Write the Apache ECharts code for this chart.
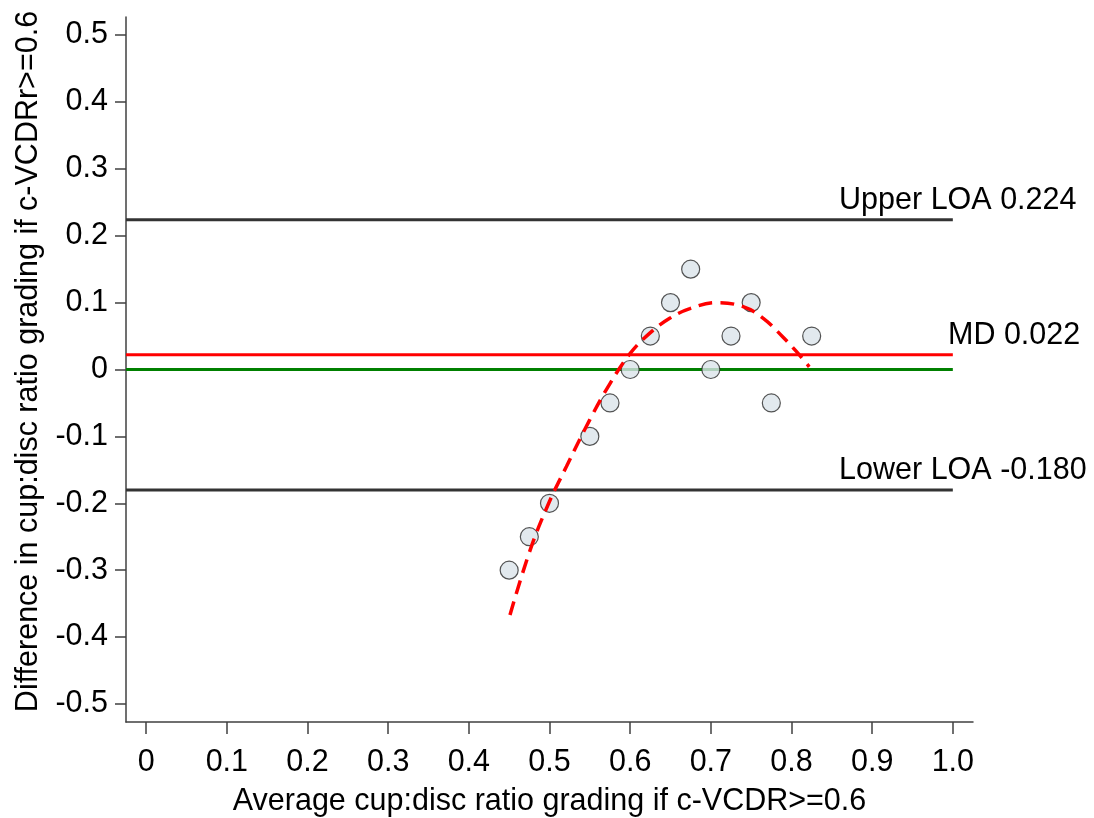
<!DOCTYPE html>
<html>
<head>
<meta charset="utf-8">
<script src="https://cdn.jsdelivr.net/npm/echarts@6/dist/echarts.min.js"></script>
<style>
  html, body { margin: 0; padding: 0; background: #fff; }
  #chart { width: 1094px; height: 818px; }
</style>
</head>
<body>
<div id="chart"></div>
<script>
// observed points (average, difference)
const avgValues = [0.45, 0.475, 0.5, 0.55, 0.575, 0.6, 0.625, 0.65, 0.675, 0.7, 0.725, 0.75, 0.775, 0.825];
const diffValues = [-0.3, -0.25, -0.2, -0.1, -0.05, 0, 0.05, 0.1, 0.15, 0, 0.05, 0.1, -0.05, 0.05];

// dashed fitted curve
const fitX = [0.451, 0.476, 0.499, 0.521, 0.55, 0.575, 0.6, 0.624, 0.649, 0.674, 0.707, 0.74, 0.765, 0.789, 0.806, 0.822];
const fitY = [-0.367, -0.27, -0.2, -0.145, -0.075, -0.021, 0.024, 0.054, 0.0765, 0.091, 0.1, 0.094, 0.0765, 0.049, 0.027, 0.004];

// reference lines
const upperLOA = 0.224;
const meanDiff = 0.022;
const zeroLine = 0;
const lowerLOA = -0.180;

const xTicks = [0, 0.1, 0.2, 0.3, 0.4, 0.5, 0.6, 0.7, 0.8, 0.9, 1.0];
const yTicks = [-0.5, -0.4, -0.3, -0.2, -0.1, 0, 0.1, 0.2, 0.3, 0.4, 0.5];

const xMin = -0.025, xMax = 1.025;
const yMin = -0.527, yMax = 0.527;
const lineEnd = 1.0;

const FONT = "Liberation Sans, Arial, sans-serif";
const FS = 30.5;

const fmt = function (v) {
    if (Math.abs(v) < 1e-9) return "0";
    return v.toFixed(1);
};

const chart = echarts.init(document.getElementById("chart"));

function hLine(value, color) {
    return {
        type: "line",
        data: [[xMin, value], [lineEnd, value]],
        symbol: "none",
        silent: true,
        z: 1,
        lineStyle: { color: color, width: 3 },
    };
}

const option = {
    animation: false,
    grid: { left: 126, right: 121, top: 17, bottom: 96, outerBoundsMode: "none", containLabel: false },
    xAxis: {
        type: "value",
        min: xMin,
        max: xMax,
        name: "Average cup:disc ratio grading if c-VCDR>=0.6",
        nameLocation: "middle",
        nameGap: 64,
        nameTextStyle: { color: "#000", fontSize: FS, fontFamily: FONT },
        splitLine: { show: false },
        axisLine: { onZero: false, lineStyle: { color: "#404040", width: 1.5 } },
        axisTick: { customValues: xTicks, length: 12, lineStyle: { color: "#404040", width: 1.5 } },
        axisLabel: { customValues: xTicks, formatter: fmt, color: "#000", fontSize: FS, fontFamily: FONT, margin: 25 },
    },
    yAxis: {
        type: "value",
        min: yMin,
        max: yMax,
        name: "Difference in cup:disc ratio grading if c-VCDRr>=0.6",
        nameLocation: "middle",
        nameGap: 82,
        nameTextStyle: { color: "#000", fontSize: FS, fontFamily: FONT, padding: [0, 0, 0, 16] },
        splitLine: { show: false },
        axisLine: { onZero: false, lineStyle: { color: "#404040", width: 1.5 } },
        axisTick: { customValues: yTicks, length: 11, lineStyle: { color: "#404040", width: 1.5 } },
        axisLabel: { customValues: yTicks, formatter: fmt, color: "#000", fontSize: FS, fontFamily: FONT, margin: 18 },
    },
    series: [
        hLine(upperLOA, "#333333"),
        hLine(lowerLOA, "#333333"),
        hLine(meanDiff, "#ff0000"),
        hLine(zeroLine, "#008000"),
        {
            type: "scatter",
            data: avgValues.map((x, i) => [x, diffValues[i]]),
            symbol: "circle",
            symbolSize: 18,
            z: 3,
            itemStyle: { color: "#dbe4ea", borderColor: "#2a2a2a", borderWidth: 1.2 },
        },
        {
            type: "line",
            data: fitX.map((x, i) => [x, fitY[i]]),
            smooth: 0.4,
            symbol: "none",
            z: 4,
            lineStyle: { color: "#ff0000", width: 3.5, type: [14, 8] },
        },
    ],
};

chart.setOption(option);

// right-hand labels for the reference lines
const labels = [
    { text: "Upper LOA 0.224", x: 0.859, value: upperLOA },
    { text: "MD 0.022", x: 0.994, value: meanDiff },
    { text: "Lower LOA -0.180", x: 0.859, value: lowerLOA },
];
chart.setOption({
    graphic: labels.map((l) => {
        const p = chart.convertToPixel({ gridIndex: 0 }, [l.x, l.value]);
        return {
            type: "text",
            left: p[0],
            top: p[1] - 35,
            style: { text: l.text, fill: "#000", font: FS + "px " + FONT },
        };
    }),
});
</script>
</body>
</html>
